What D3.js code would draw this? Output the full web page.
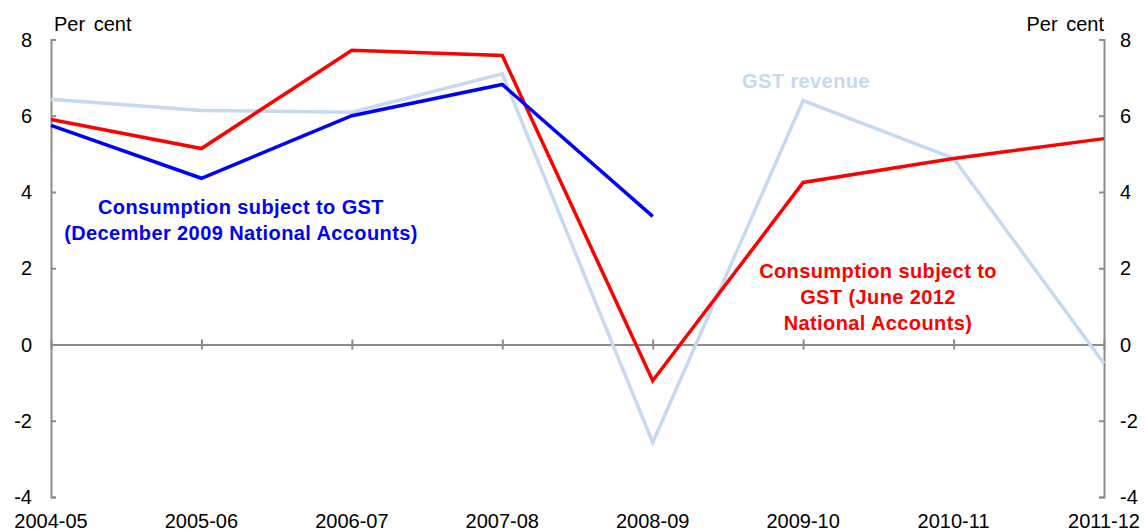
<!DOCTYPE html>
<html>
<head>
<meta charset="utf-8">
<script src="https://cdn.jsdelivr.net/npm/d3@7"></script>
<style>
  body { margin: 0; background: #fff; }
  text { font-family: "Liberation Sans", Arial, sans-serif; }
</style>
</head>
<body>
<svg id="chart" width="1145" height="531"></svg>
<script>
// chart values
const years = ['2004-05', '2005-06', '2006-07', '2007-08', '2008-09', '2009-10', '2010-11', '2011-12']
const gstRevenue = [6.43, 6.14, 6.09, 7.1, -2.57, 6.4, 4.88, -0.5]
const consumptionJune2012 = [5.9, 5.14, 7.72, 7.58, -0.95, 4.25, 4.88, 5.4]
const consumptionDec2009 = [5.75, 4.36, 6.0, 6.82, 3.36]
const yTicks = [-4, -2, 0, 2, 4, 6, 8]

const svg = d3.select('#chart')
const axisColor = '#8c8c8c'
const fontSize = 20

const x = d3.scalePoint()
  .domain(years)
  .range([51, 1104])

const y = d3.scaleLinear()
  .domain([-4, 8])
  .range([497, 39.5])

// left and right axes
const leftAxis = svg.append('g').attr('transform', `translate(${x(years[0])},0)`)
  .call(d3.axisRight(y).tickValues(yTicks).tickSize(5).tickFormat(''))
const rightAxis = svg.append('g').attr('transform', `translate(${x(years[years.length - 1])},0)`)
  .call(d3.axisLeft(y).tickValues(yTicks).tickSize(5).tickFormat(''))
;[leftAxis, rightAxis].forEach(g => {
  g.select('.domain').attr('stroke', axisColor).attr('stroke-width', 2)
  g.selectAll('.tick line').attr('stroke', axisColor).attr('stroke-width', 2)
})

svg.selectAll('text.ylabL')
  .data(yTicks)
  .enter()
  .append('text')
  .attr('class', 'ylabL')
  .attr('x', 32)
  .attr('y', d => y(d) + 7)
  .attr('text-anchor', 'end')
  .attr('font-size', fontSize)
  .text(d => d)

svg.selectAll('text.ylabR')
  .data(yTicks)
  .enter()
  .append('text')
  .attr('class', 'ylabR')
  .attr('x', 1120)
  .attr('y', d => y(d) + 7)
  .attr('text-anchor', 'start')
  .attr('font-size', fontSize)
  .text(d => d)

// zero line with category ticks
const zeroAxis = svg.append('g').attr('transform', `translate(0,${y(0)})`)
  .call(d3.axisBottom(x).tickSize(0).tickFormat(''))
zeroAxis.select('.domain').attr('stroke', axisColor).attr('stroke-width', 2)
zeroAxis.selectAll('.tick line')
  .attr('y1', -5).attr('y2', 5)
  .attr('stroke', axisColor).attr('stroke-width', 2)

svg.selectAll('text.xlab')
  .data(years)
  .enter()
  .append('text')
  .attr('class', 'xlab')
  .attr('x', d => x(d))
  .attr('y', 528)
  .attr('text-anchor', 'middle')
  .attr('font-size', fontSize)
  .text(d => d)

svg.append('text').attr('x', 54).attr('y', 31).attr('font-size', fontSize)
  .attr('word-spacing', 3).text('Per cent')
svg.append('text').attr('x', 1104).attr('y', 31).attr('font-size', fontSize)
  .attr('word-spacing', 3).attr('text-anchor', 'end').text('Per cent')

// series
const line = d3.line()
  .x((d, i) => x(years[i]))
  .y(d => y(d))

const series = [
  { values: gstRevenue, color: '#c6d9f1' },
  { values: consumptionJune2012, color: '#ff0000' },
  { values: consumptionDec2009, color: '#0000ff' }
]

svg.selectAll('path.series')
  .data(series)
  .enter()
  .append('path')
  .attr('class', 'series')
  .attr('d', d => line(d.values))
  .attr('fill', 'none')
  .attr('stroke', d => d.color)
  .attr('stroke-width', 3.5)
  .attr('stroke-linejoin', 'miter')

// annotations
const labels = [
  { lines: ['GST revenue'], cx: 806, y0: 88, color: '#c6d9f1' },
  { lines: ['Consumption subject to GST', '(December 2009 National Accounts)'], cx: 241, y0: 214, color: '#0000ff' },
  { lines: ['Consumption subject to', 'GST (June 2012', 'National Accounts)'], cx: 878, y0: 278, color: '#ff0000' }
]

labels.forEach(l => {
  svg.append('text')
    .attr('x', l.cx)
    .attr('y', l.y0)
    .attr('text-anchor', 'middle')
    .attr('font-size', fontSize)
    .attr('font-weight', 'bold')
    .attr('letter-spacing', 0.4)
    .attr('fill', l.color)
    .selectAll('tspan')
    .data(l.lines)
    .enter()
    .append('tspan')
    .attr('x', l.cx)
    .attr('dy', (d, i) => i === 0 ? 0 : 26)
    .text(d => d)
})
</script>
</body>
</html>
